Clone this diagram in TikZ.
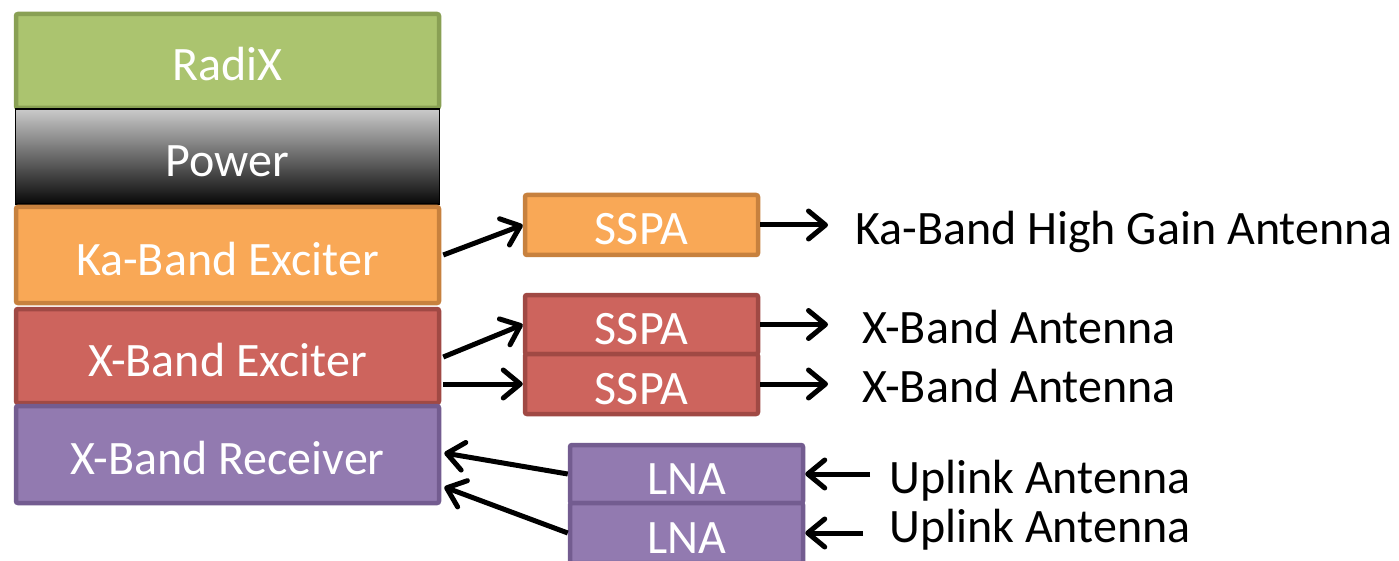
\documentclass[tikz,border=0pt]{standalone}
\usepackage{fontspec}
\setmainfont{Carlito}
\usetikzlibrary{arrows.meta,calc}
\definecolor{gfill}{RGB}{171,196,111}
\definecolor{gline}{RGB}{137,160,84}
\definecolor{ofill}{RGB}{249,168,86}
\definecolor{oline}{RGB}{199,129,62}
\definecolor{rfill}{RGB}{205,100,93}
\definecolor{rline}{RGB}{160,73,68}
\definecolor{pfill}{RGB}{146,122,176}
\definecolor{pline}{RGB}{115,92,144}
\definecolor{ptop}{RGB}{202,202,202}
\definecolor{pbot}{RGB}{8,8,8}
\begin{document}
\begin{tikzpicture}[x=1pt,y=-1pt,
  every node/.style={font=\fontsize{48}{57}\selectfont, inner sep=0pt},
  blk/.style={draw, line width=4.5pt, rounded corners=2pt, text=white,
    text height=40pt, text depth=0pt, minimum width=423pt},
  small/.style={draw, line width=4.5pt, rounded corners=2pt, text=white,
    text height=40pt, text depth=0pt, minimum width=233pt},
  lbl/.style={anchor=base west, text=black},
  arr/.style={line width=5pt, -{Straight Barb[length=17pt,width=28pt,round]}}]
\clip (0,0) rectangle (1399,561);
\fill[white] (0,0) rectangle (1399,561);
% stack
\node[blk, fill=gfill, draw=gline, minimum height=94pt] (radix) at (227.5,61) {RadiX};
\node[draw=black, line width=1.5pt, top color=ptop, bottom color=pbot, text=white,
  text height=40pt, text depth=0pt, minimum width=424pt, minimum height=95pt] (power) at (227.5,156.5) {Power};
\node[blk, fill=ofill, draw=oline, minimum height=96pt] (kaexc) at (227.5,255) {Ka-Band Exciter};
\node[blk, fill=rfill, draw=rline, minimum height=94pt] (xexc) at (227.5,356) {X-Band Exciter};
\node[blk, fill=pfill, draw=pline, minimum height=97pt] (xrec) at (227.5,454.5) {X-Band Receiver};
% amplifiers
\node[small, fill=ofill, draw=oline, minimum height=60pt] (sspaka) at (641.5,225) {SSPA};
\node[small, fill=rfill, draw=rline, minimum height=59pt] (sspax1) at (641.5,324.5) {SSPA};
\node[small, fill=rfill, draw=rline, minimum height=60pt] (sspax2) at (641.5,384) {SSPA};
\node[small, fill=pfill, draw=pline, minimum height=58pt] (lna1) at (686.5,474) {LNA};
\node[small, fill=pfill, draw=pline, minimum height=60pt] (lna2) at (686.5,533) {LNA};
% labels
\node[lbl] (kaant) at (855,245) {Ka-Band High Gain Antenna};
\node[lbl] (xant1) at (862,343) {X-Band Antenna};
\node[lbl] (xant2) at (862,402) {X-Band Antenna};
\node[lbl] (up1) at (889,493) {Uplink Antenna};
\node[lbl] (up2) at (889,542) {Uplink Antenna};
% coordinates
\coordinate (tka) at (828,225);
\coordinate (tx1) at (828,324.5);
\coordinate (tx2) at (828,384);
\coordinate (su1) at (870,474);
\coordinate (su2) at (863,533);
% connectors
\draw[arr] ($(kaexc.east)+(2,0)$) -- (sspaka.west);
\draw[arr] ($(xexc.east)+(2,1)$) -- (sspax1.west);
\draw[arr] ($(xexc.east |- sspax2.west)+(2,0)$) -- (sspax2.west);
\draw[arr] (sspaka.east) -- (tka);
\draw[arr] (sspax1.east) -- (tx1);
\draw[arr] (sspax2.east) -- (tx2);
\draw[arr] (lna1.west) -- ($(xrec.east)+(3,-1.5)$);
\draw[arr] (lna2.west) -- ($(xrec.east)+(3,32.5)$);
\draw[arr] (su1) -- (lna1.east);
\draw[arr] (su2) -- (lna2.east);
\end{tikzpicture}
\end{document}
